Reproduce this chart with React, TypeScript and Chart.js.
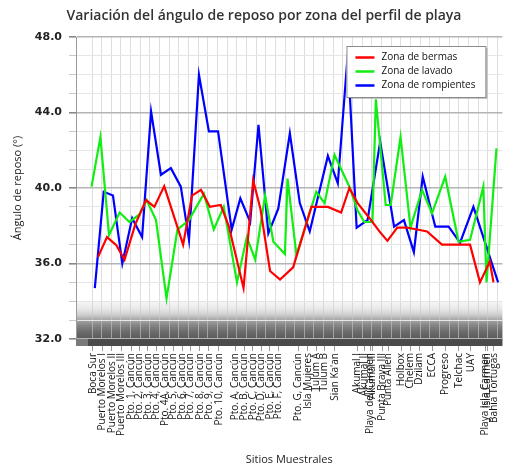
import React, { useEffect, useRef } from "react";
import { Chart, registerables } from "chart.js";

Chart.register(...registerables);

const TITLE = "Variación del ángulo de reposo por zona del perfil de playa";
const X_TITLE = "Sitios Muestrales";
const Y_TITLE = "Ángulo de reposo (°)";

// Site labels and their positions along the (ordinal, numeric) x axis
const SITE_NAMES = [
  "Boca Sur", "Puerto Morelos I", "Puerto Morelos II", "Puerto Morelos III",
  "Pto. 1, Cancún", "Pto. 2, Cancún", "Pto. 3, Cancún", "Pto. 4, Cancún",
  "Pto. 4A, Cancún", "Pto. 5, Cancún", "Pto. 6, Cancún", "Pto. 7, Cancún",
  "Pto. 8, Cancún", "Pto. 9, Cancún", "Pto. 10, Cancún",
  "Pto. A, Cancún", "Pto. B, Cancún", "Pto. C, Cancún", "Pto. D, Cancún",
  "Pto. E, Cancún", "Pto. F, Cancún", "Pto. G, Cancún",
  "Isla Mujeres", "Tulum A", "Tulum B", "Sian Ka'an",
  "Akumal I", "Akumal II", "Playa del Carmen", "Akumal III",
  "Punta Brava III", "Punta Allen", "Holbox", "Chelem", "Dzilam",
  "ECCA", "Progreso", "Telchac", "UAY", "Playa Isla Carmen", "Isla Carmen",
  "Bahía Tortugas",
];
const SITE_POS = [
  1.13, 2.11, 3.09, 4.06,
  5.14, 5.96, 6.84, 7.71,
  8.58, 9.46, 10.38, 11.26,
  12.23, 13.16, 14.18,
  15.93, 16.86, 17.73, 18.6,
  19.48, 20.35, 22.41,
  23.43, 24.31, 25.13, 26.21,
  28.52, 29.24, 29.91, 30.11,
  31.14, 31.76, 33.1, 34.02, 34.95,
  36.28, 37.67, 39.06, 40.29, 41.83, 41.99,
  42.7,
];

const X_MIN = -0.61;
const X_MAX = 43.58;
const Y_MIN = 32;
const Y_MAX = 48;
const FLOOR_TOP = 34;
const GRID_COUNT = 43;

// Zona de bermas
const BERMAS_X = [
  1.68, 2.6, 3.57, 4.42, 5.55, 6.65, 7.51, 8.53, 9.35, 10.49, 11.41, 12.34,
  13.26, 14.39, 15.21, 16.75, 17.75, 18.5, 19.5, 20.53, 21.89, 23.78, 25.49,
  26.86, 27.72, 28.57, 29.81, 30.83, 31.66, 32.68, 33.71, 34.74, 35.77,
  37.31, 39.54, 40.22, 41.25, 42.27, 42.65,
];
const BERMAS_Y = [
  36.35, 37.4, 36.97, 36.2, 38.1, 39.36, 39.0, 40.1, 38.8, 37.0, 39.6, 39.9,
  39.0, 39.1, 38.0, 34.7, 40.4, 38.9, 35.6, 35.15, 35.8, 39.0, 39.0,
  38.7, 40.0, 39.2, 38.4, 37.7, 37.2, 37.9, 37.9, 37.8, 37.7,
  37.0, 37.0, 37.0, 35.0, 36.1, 35.0,
];

// Zona de lavado
const LAVADO_X = [
  1.0, 1.92, 2.81, 3.91, 4.94, 5.96, 6.71, 7.68, 8.77, 9.9, 11.1, 12.64,
  13.67, 14.7, 16.07, 17.09, 17.96, 18.98, 19.84, 21.04, 21.31, 22.23,
  24.29, 25.15, 26.18, 27.72, 28.57, 29.26, 30.11, 30.46, 31.48, 32.0,
  33.02, 34.05, 35.25, 36.28, 37.65, 39.03, 40.22, 41.6, 41.93, 42.96,
];
const LAVADO_Y = [
  40.07, 42.7, 37.5, 38.7, 38.2, 38.6, 39.36, 38.3, 34.15, 37.8, 38.3, 39.7,
  37.8, 39.0, 35.0, 37.4, 36.2, 39.6, 37.15, 36.5, 40.5, 36.45,
  39.8, 39.2, 41.75, 40.07, 38.8, 38.2, 38.2, 44.7, 39.1, 39.1,
  42.7, 37.9, 39.9, 38.66, 40.6, 37.15, 37.25, 40.07, 35.0, 42.1,
];

// Zona de rompientes
const ROMPIENTES_X = [
  1.34, 2.26, 3.22, 4.19, 5.21, 6.24, 7.17, 8.19, 9.22, 10.25, 11.1, 12.13,
  13.16, 14.11, 15.52, 16.42, 17.44, 18.3, 19.32, 20.35, 21.55, 22.58,
  23.61, 25.49, 26.52, 27.55, 28.47, 29.6, 30.91, 32.35, 33.37, 34.4,
  35.32, 36.62, 38.0, 39.19, 40.57, 43.13,
];
const ROMPIENTES_Y = [
  34.7, 39.8, 39.6, 36.0, 38.4, 37.4, 44.05, 40.7, 41.05, 40.07, 37.25, 46.0,
  43.0, 43.0, 37.8, 39.45, 38.2, 43.35, 37.6, 38.9, 42.9, 39.2,
  37.7, 41.7, 40.25, 47.1, 37.9, 38.3, 42.45, 37.95, 38.3, 36.6,
  40.6, 37.95, 37.95, 37.1, 39.0, 35.0,
];

const SERIES = [
  { label: "Zona de bermas", xs: BERMAS_X, ys: BERMAS_Y, color: "#ff0000" },
  { label: "Zona de lavado", xs: LAVADO_X, ys: LAVADO_Y, color: "#11ee11" },
  { label: "Zona de rompientes", xs: ROMPIENTES_X, ys: ROMPIENTES_Y, color: "#0000ff" },
];

const decorPlugin = {
  id: "decor",
  beforeDraw(chart: any) {
    const { ctx, chartArea: a, scales } = chart;
    const xs = scales.x;
    const ys = scales.y;
    const top = ys.getPixelForValue(FLOOR_TOP);
    const bottom = a.bottom;
    ctx.save();
    const g = ctx.createLinearGradient(0, top, 0, bottom);
    g.addColorStop(0, "#f6f6f6");
    g.addColorStop(0.2, "#e8e8e8");
    g.addColorStop(0.35, "#d0d0d0");
    g.addColorStop(0.5, "#a4a4a4");
    g.addColorStop(0.65, "#838383");
    g.addColorStop(0.82, "#6a6a6a");
    g.addColorStop(1, "#5a5a5a");
    ctx.fillStyle = g;
    ctx.fillRect(a.left, top, a.right - a.left, bottom - top);
    ctx.strokeStyle = "rgba(200,200,200,0.6)";
    ctx.lineWidth = 1;
    for (let k = 1; k <= GRID_COUNT; k++) {
      const px = Math.round(xs.getPixelForValue(k)) + 0.5;
      ctx.beginPath();
      ctx.moveTo(px, a.top);
      ctx.lineTo(px, bottom);
      ctx.stroke();
    }
    ctx.restore();
  },
  afterDraw(chart: any) {
    const { ctx, chartArea: a } = chart;
    ctx.save();
    // floor front edge
    ctx.fillStyle = "#7a7a7a";
    ctx.fillRect(a.left, a.bottom, 12, 7);
    ctx.fillStyle = "#4b4b4b";
    ctx.fillRect(a.left + 12, a.bottom, a.right - a.left - 12, 7);

    // title
    ctx.fillStyle = "#333";
    ctx.font = "600 14px 'Open Sans'";
    ctx.textAlign = "center";
    ctx.textBaseline = "middle";
    ctx.fillText(TITLE, chart.width / 2 + 10, 16);

    // legend
    const lw = 139;
    const lh = 51;
    const lx = a.right - 156;
    const ly = a.top + 9;
    ctx.fillStyle = "rgba(0,0,0,0.22)";
    ctx.fillRect(lx + 2, ly + 2, lw, lh);
    ctx.fillStyle = "#ffffff";
    ctx.fillRect(lx, ly, lw, lh);
    ctx.strokeStyle = "#8c8c8c";
    ctx.lineWidth = 1;
    ctx.strokeRect(lx + 0.5, ly + 0.5, lw, lh);
    ctx.font = "10px 'Open Sans'";
    ctx.textAlign = "left";
    chart.data.datasets.forEach((ds: any, i: number) => {
      const cy = ly + 11.5 + i * 14;
      ctx.strokeStyle = ds.borderColor;
      ctx.lineWidth = 2.5;
      ctx.beginPath();
      ctx.moveTo(lx + 9, cy);
      ctx.lineTo(lx + 28, cy);
      ctx.stroke();
      ctx.fillStyle = "#111";
      ctx.fillText(ds.label, lx + 35, cy);
    });
    ctx.restore();
  },
};

export default function App() {
  const ref = useRef<HTMLCanvasElement | null>(null);

  useEffect(() => {
    if (!ref.current) return;
    const datasets = SERIES.map((s) => ({
      label: s.label,
      data: s.xs.map((x, i) => ({ x, y: s.ys[i] })),
      borderColor: s.color,
      backgroundColor: s.color,
      borderWidth: 2.2,
      pointRadius: 0,
      tension: 0,
      fill: false,
    }));
    const major = (v: number) => Math.abs(v % 4) < 1e-6;
    const chart = new Chart(ref.current, {
      type: "line",
      data: { datasets },
      options: {
        responsive: false,
        animation: false,
        events: [],
        layout: { padding: { top: 37, right: 2, left: 0, bottom: 0 } },
        plugins: {
          legend: { display: false },
          title: { display: false },
          tooltip: { enabled: false },
        },
        scales: {
          x: {
            type: "linear",
            min: X_MIN,
            max: X_MAX,
            afterBuildTicks: (s: any) => {
              s.ticks = SITE_POS.map((v) => ({ value: v }));
            },
            afterFit: (s: any) => {
              s.height = 129;
            },
            ticks: {
              autoSkip: false,
              minRotation: 90,
              maxRotation: 90,
              padding: 2,
              color: "#111",
              font: { family: "'Open Sans'", size: 10 },
              callback: (_v: any, i: number) => SITE_NAMES[i],
            },
            grid: {
              drawOnChartArea: false,
              drawTicks: true,
              tickLength: 12,
              tickColor: "#9a9a9a",
            },
            border: { display: false },
            title: {
              display: true,
              text: X_TITLE,
              color: "#222",
              font: { family: "'Open Sans'", size: 11 },
              padding: { top: 0, bottom: 1.4 },
            },
          },
          y: {
            type: "linear",
            min: Y_MIN,
            max: Y_MAX,
            afterFit: (s: any) => {
              s.width = 76;
            },
            ticks: {
              stepSize: 1,
              autoSkip: false,
              padding: 7,
              color: "#222",
              font: { family: "'DejaVu Sans'", size: 11, weight: "bold" },
              callback: (v: any) => (major(Number(v)) ? Number(v).toFixed(1) : ""),
            },
            grid: {
              color: (c: any) => (major(c.tick.value) ? "#b4b4b4" : "#e6e6e6"),
              lineWidth: (c: any) => (major(c.tick.value) ? 1.6 : 1),
              tickLength: 7,
              tickColor: (c: any) => (major(c.tick.value) ? "#888" : "#c8c8c8"),
            },
            border: { display: true, color: "#9a9a9a" },
            title: {
              display: true,
              text: Y_TITLE,
              color: "#222",
              font: { family: "'Open Sans'", size: 11 },
              padding: { top: 11.4, bottom: 0 },
            },
          },
        },
      },
      plugins: [decorPlugin],
    } as any);
    return () => chart.destroy();
  }, []);

  return (
    <div style={{ position: "fixed", left: 0, top: 0, width: 508, height: 468, background: "#fff" }}>
      <canvas ref={ref} width={508} height={468} style={{ display: "block" }} />
    </div>
  );
}
